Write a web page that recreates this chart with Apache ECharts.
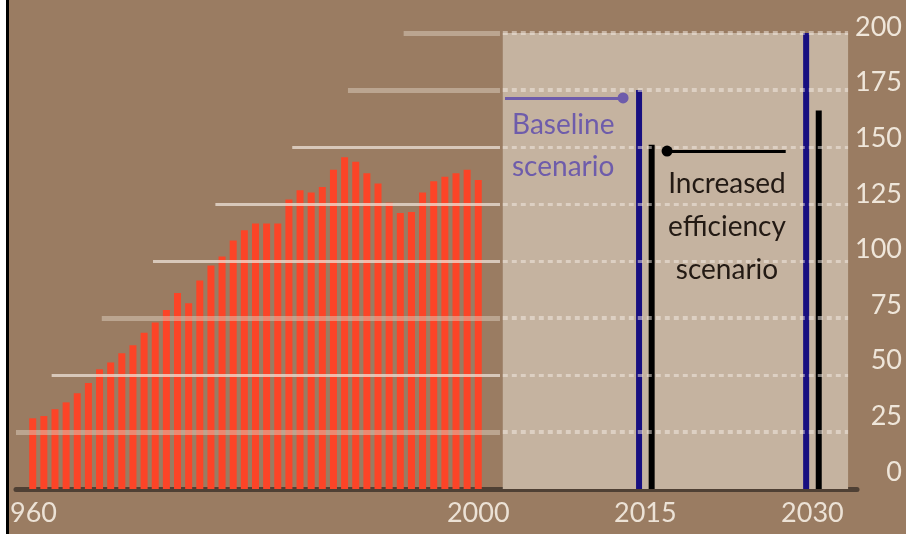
<!DOCTYPE html>
<html>
<head>
<meta charset="utf-8">
<title>Energy demand</title>
<script src="https://cdn.jsdelivr.net/npm/echarts@6/dist/echarts.min.js"></script>
<style>
  html, body { margin: 0; padding: 0; background: #9a7c62; }
  #chart { width: 906px; height: 534px; }
</style>
</head>
<body>
<div id="chart"></div>
<script>
// historic values 1960 - 2000
var years = [1960, 1961, 1962, 1963, 1964, 1965, 1966, 1967, 1968, 1969,
  1970, 1971, 1972, 1973, 1974, 1975, 1976, 1977, 1978, 1979,
  1980, 1981, 1982, 1983, 1984, 1985, 1986, 1987, 1988, 1989,
  1990, 1991, 1992, 1993, 1994, 1995, 1996, 1997, 1998, 1999, 2000]
var pastValues = [31, 32, 35, 38, 42, 46.5, 52.5, 55.5, 59.5, 63,
  68.5, 73, 78.5, 86, 81.5, 91.5, 98, 102, 109, 113.5,
  116.5, 116.5, 116.5, 127, 131, 130, 132.5, 140, 145.5, 143.5,
  138.5, 134, 125.5, 121, 121.5, 130, 135, 137, 138.5, 140, 135.5]

// scenarios
var projYears = [2015, 2030]
var baseline = [175, 200]
var efficiency = [151, 166]

var xLabels = [1960, 2000, 2015, 2030]
var yTicks = [0, 25, 50, 75, 100, 125, 150, 175, 200]

var font = 'Lato, "Open Sans", sans-serif'
var chart = echarts.init(document.getElementById('chart'))

// the white lines step in from the left, one start per level (in years)
var gridStart = {25: 1958.5, 50: 1961.7, 75: 1966.2, 100: 1970.8, 125: 1976.4, 150: 1983.3, 175: 1988.3, 200: 1993.3}
var panelFrom = 2002.2
var panelTo = 2033.2

var gridLines = []
yTicks.forEach(function (v) {
  if (!v) return
  var heavy = (v == 25 || v == 75 || v == 175 || v == 200)
  var solid = heavy
    ? {color: 'rgba(220,205,190,0.5)', width: 5, type: 'solid'}
    : {color: 'rgba(240,230,220,0.72)', width: 3, type: 'solid'}
  var dash = {color: 'rgba(245,238,230,0.5)', width: heavy ? 4 : 3, type: [5, 4]}
  gridLines.push([{coord: [gridStart[v], v], lineStyle: solid}, {coord: [panelFrom - 0.25, v], lineStyle: solid}])
  gridLines.push([{coord: [panelFrom, v], lineStyle: dash}, {coord: [panelTo, v], lineStyle: dash}])
})

// pointer lines to the two scenario labels
var baseStyle = {color: '#6e5cab', width: 3, type: 'solid'}
var effStyle = {color: '#000000', width: 3, type: 'solid'}
var pointers = [
  [{coord: [2002.4, 171.5], symbol: 'none', lineStyle: baseStyle},
   {coord: [2013.0, 171.5], symbol: 'circle', symbolSize: 11, itemStyle: {color: '#6e5cab'}, lineStyle: baseStyle}],
  [{coord: [2016.95, 148.2], symbol: 'circle', symbolSize: 11, itemStyle: {color: '#000000'}, lineStyle: effStyle},
   {coord: [2027.6, 148.2], symbol: 'none', lineStyle: effStyle}]
]

var xAxisBase = {
  type: 'value',
  min: 1958.5,
  max: 2034,
  splitLine: {show: false},
  axisTick: {show: false}
}

var option = {
  backgroundColor: '#9a7c62',
  animation: false,
  grid: [
    {left: 16, right: 49, top: 33, bottom: 45, outerBoundsMode: 'none'},
    {left: 16, right: 49, top: 27, bottom: 62, outerBoundsMode: 'none'}
  ],
  xAxis: [
    Object.assign({}, xAxisBase, {
      gridIndex: 0,
      axisLine: {show: true, lineStyle: {color: '#4f4034', width: 5}},
      axisLabel: {
        customValues: xLabels,
        formatter: function (v) {
          // the first year runs under the page edge
          return v == 1960 ? '{edge|' + v + '}' : String(v)
        },
        rich: {edge: {padding: [0, 14, 0, 0]}},
        color: '#ece2d6',
        fontFamily: font,
        fontSize: 27,
        margin: 11
      }
    }),
    Object.assign({}, xAxisBase, {gridIndex: 0, show: false}),
    Object.assign({}, xAxisBase, {gridIndex: 1, show: false})
  ],
  yAxis: [
    {type: 'value', gridIndex: 0, min: 0, max: 200, interval: 25, show: false},
    {
      type: 'value', gridIndex: 1, min: 0, max: 200, interval: 25,
      position: 'right',
      axisLine: {show: false},
      axisTick: {show: false},
      splitLine: {show: false},
      axisLabel: {
        color: '#efe6da',
        fontFamily: font,
        fontSize: 27,
        align: 'right',
        margin: 45
      }
    }
  ],
  series: [
    {
      // panel + stepped gridlines
      type: 'line',
      xAxisIndex: 0,
      yAxisIndex: 0,
      data: [],
      clip: false,
      silent: true,
      z: 1,
      markArea: {
        silent: true,
        itemStyle: {color: '#c5b3a0'},
        data: [[{coord: [panelFrom, 0]}, {coord: [panelTo, 204]}]]
      },
      markLine: {
        silent: true,
        symbol: 'none',
        label: {show: false},
        data: gridLines
      }
    },
    {
      // scenario pointers, kept off the bar series so they are not shifted
      type: 'line',
      xAxisIndex: 0,
      yAxisIndex: 0,
      data: [],
      clip: false,
      silent: true,
      z: 5,
      markLine: {
        silent: true,
        label: {show: false},
        data: pointers
      }
    },
    {
      type: 'bar',
      xAxisIndex: 0,
      yAxisIndex: 0,
      z: 3,
      barWidth: 7,
      itemStyle: {color: '#fc4427'},
      data: years.map(function (y, i) { return [y, pastValues[i]] })
    },
    {
      name: 'Baseline scenario',
      type: 'bar',
      xAxisIndex: 1,
      yAxisIndex: 0,
      z: 3,
      barWidth: 6,
      barGap: '110%',
      itemStyle: {color: '#180f80'},
      data: projYears.map(function (y, i) { return [y, baseline[i]] })
    },
    {
      name: 'Increased efficiency scenario',
      type: 'bar',
      xAxisIndex: 1,
      yAxisIndex: 0,
      z: 3,
      barWidth: 6,
      barGap: '110%',
      itemStyle: {color: '#000000'},
      data: projYears.map(function (y, i) { return [y, efficiency[i]] })
    }
  ],
  graphic: [
    {
      type: 'text', left: 512, top: 104, z: 10,
      style: {
        text: 'Baseline\nscenario',
        fill: '#6e5cab',
        font: '28px ' + font,
        lineHeight: 42
      }
    },
    {
      type: 'text', x: 727, y: 162, z: 10,
      style: {
        text: 'Increased\nefficiency\nscenario',
        fill: '#231a14',
        font: '28px ' + font,
        align: 'center',
        lineHeight: 43
      }
    },
    // page edge on the left
    {type: 'rect', left: 0, top: 0, z: 100, shape: {width: 6, height: 534}, style: {fill: '#ffffff'}},
    {type: 'rect', left: 6, top: 0, z: 100, shape: {width: 3, height: 534}, style: {fill: '#000000'}}
  ]
}

chart.setOption(option)
</script>
</body>
</html>
